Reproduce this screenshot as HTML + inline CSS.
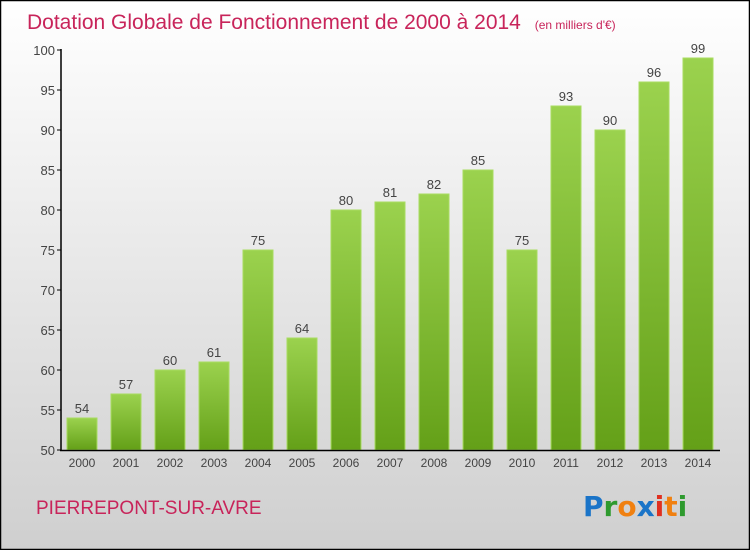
<!DOCTYPE html>
<html><head><meta charset="utf-8"><style>
body{margin:0}
#c{width:750px;height:550px;position:relative;overflow:hidden}
svg{display:block;font-family:"Liberation Sans",sans-serif}
</style></head><body>
<div id="c">
<svg id="s" width="750" height="550" xmlns="http://www.w3.org/2000/svg">
<defs>
<linearGradient id="bg" x1="0" y1="0" x2="0" y2="1"><stop offset="0" stop-color="#ffffff"/><stop offset="1" stop-color="#cfcfcf"/></linearGradient>
<linearGradient id="bar" x1="0" y1="0" x2="0" y2="1"><stop offset="0" stop-color="#9bd24e"/><stop offset="1" stop-color="#64a018"/></linearGradient>
</defs>
<rect x="0.5" y="0.5" width="749" height="549" fill="url(#bg)" stroke="#000" stroke-width="1.5"/>
<text x="27" y="29" font-size="21" fill="#c8245a">Dotation Globale de Fonctionnement de 2000 à 2014 <tspan font-size="12" dx="8">(en milliers d'€)</tspan></text>
<text x="36" y="514" font-size="19" fill="#c8245a">PIERREPONT-SUR-AVRE</text>
<g font-size="28" font-weight="bold" font-family="'DejaVu Sans',sans-serif">
<text x="583" y="516"><tspan fill="#1a74c8">P</tspan><tspan fill="#2e9a2e">r</tspan><tspan fill="#f08010">o</tspan><tspan fill="#1a74c8">x</tspan><tspan fill="#e03020">i</tspan><tspan fill="#f08010">t</tspan><tspan fill="#2e9a2e">i</tspan></text>
</g>
<g id="plot"></g>
</svg>
</div>
<script>
const years=["2000","2001","2002","2003","2004","2005","2006","2007","2008","2009","2010","2011","2012","2013","2014"];
const values=[54,57,60,61,75,64,80,81,82,85,75,93,90,96,99];
const yTicks=[50,55,60,65,70,75,80,85,90,95,100];
const NS="http://www.w3.org/2000/svg";
const g=document.getElementById('plot');
const y=v=>450-(v-50)*8;
const x=i=>82+i*44;
function mk(t,a,txt){const e=document.createElementNS(NS,t);for(const k in a)e.setAttribute(k,a[k]);if(txt!=null)e.textContent=txt;g.appendChild(e);return e;}
yTicks.forEach(t=>{
 const l=mk('line',{x1:57,x2:61,y1:y(t),y2:y(t),stroke:'#000'});
 
 
 const tx=mk('text',{x:55,y:y(t)+5,'text-anchor':'end','font-size':13,fill:'#444'},t);
 
 
});
values.forEach((v,i)=>{
 const r=mk('rect',{x:x(i)-15,y:y(v),width:30,height:450-y(v),fill:'url(#bar)',stroke:'#a8dc60','stroke-width':1});
 
 
 const vl=mk('text',{x:x(i),y:y(v)-5,'text-anchor':'middle','font-size':13,fill:'#444'},v);
 
 
 const xl=mk('text',{x:x(i),y:467,'text-anchor':'middle','font-size':12,fill:'#444'},years[i]);
 
 
});
const ya=mk('line',{x1:61,x2:61,y1:49,y2:451,stroke:'#000','stroke-width':1.5});


const xa=mk('line',{x1:60,x2:720,y1:450.5,y2:450.5,stroke:'#000','stroke-width':1.5});


</script>
</body></html>
